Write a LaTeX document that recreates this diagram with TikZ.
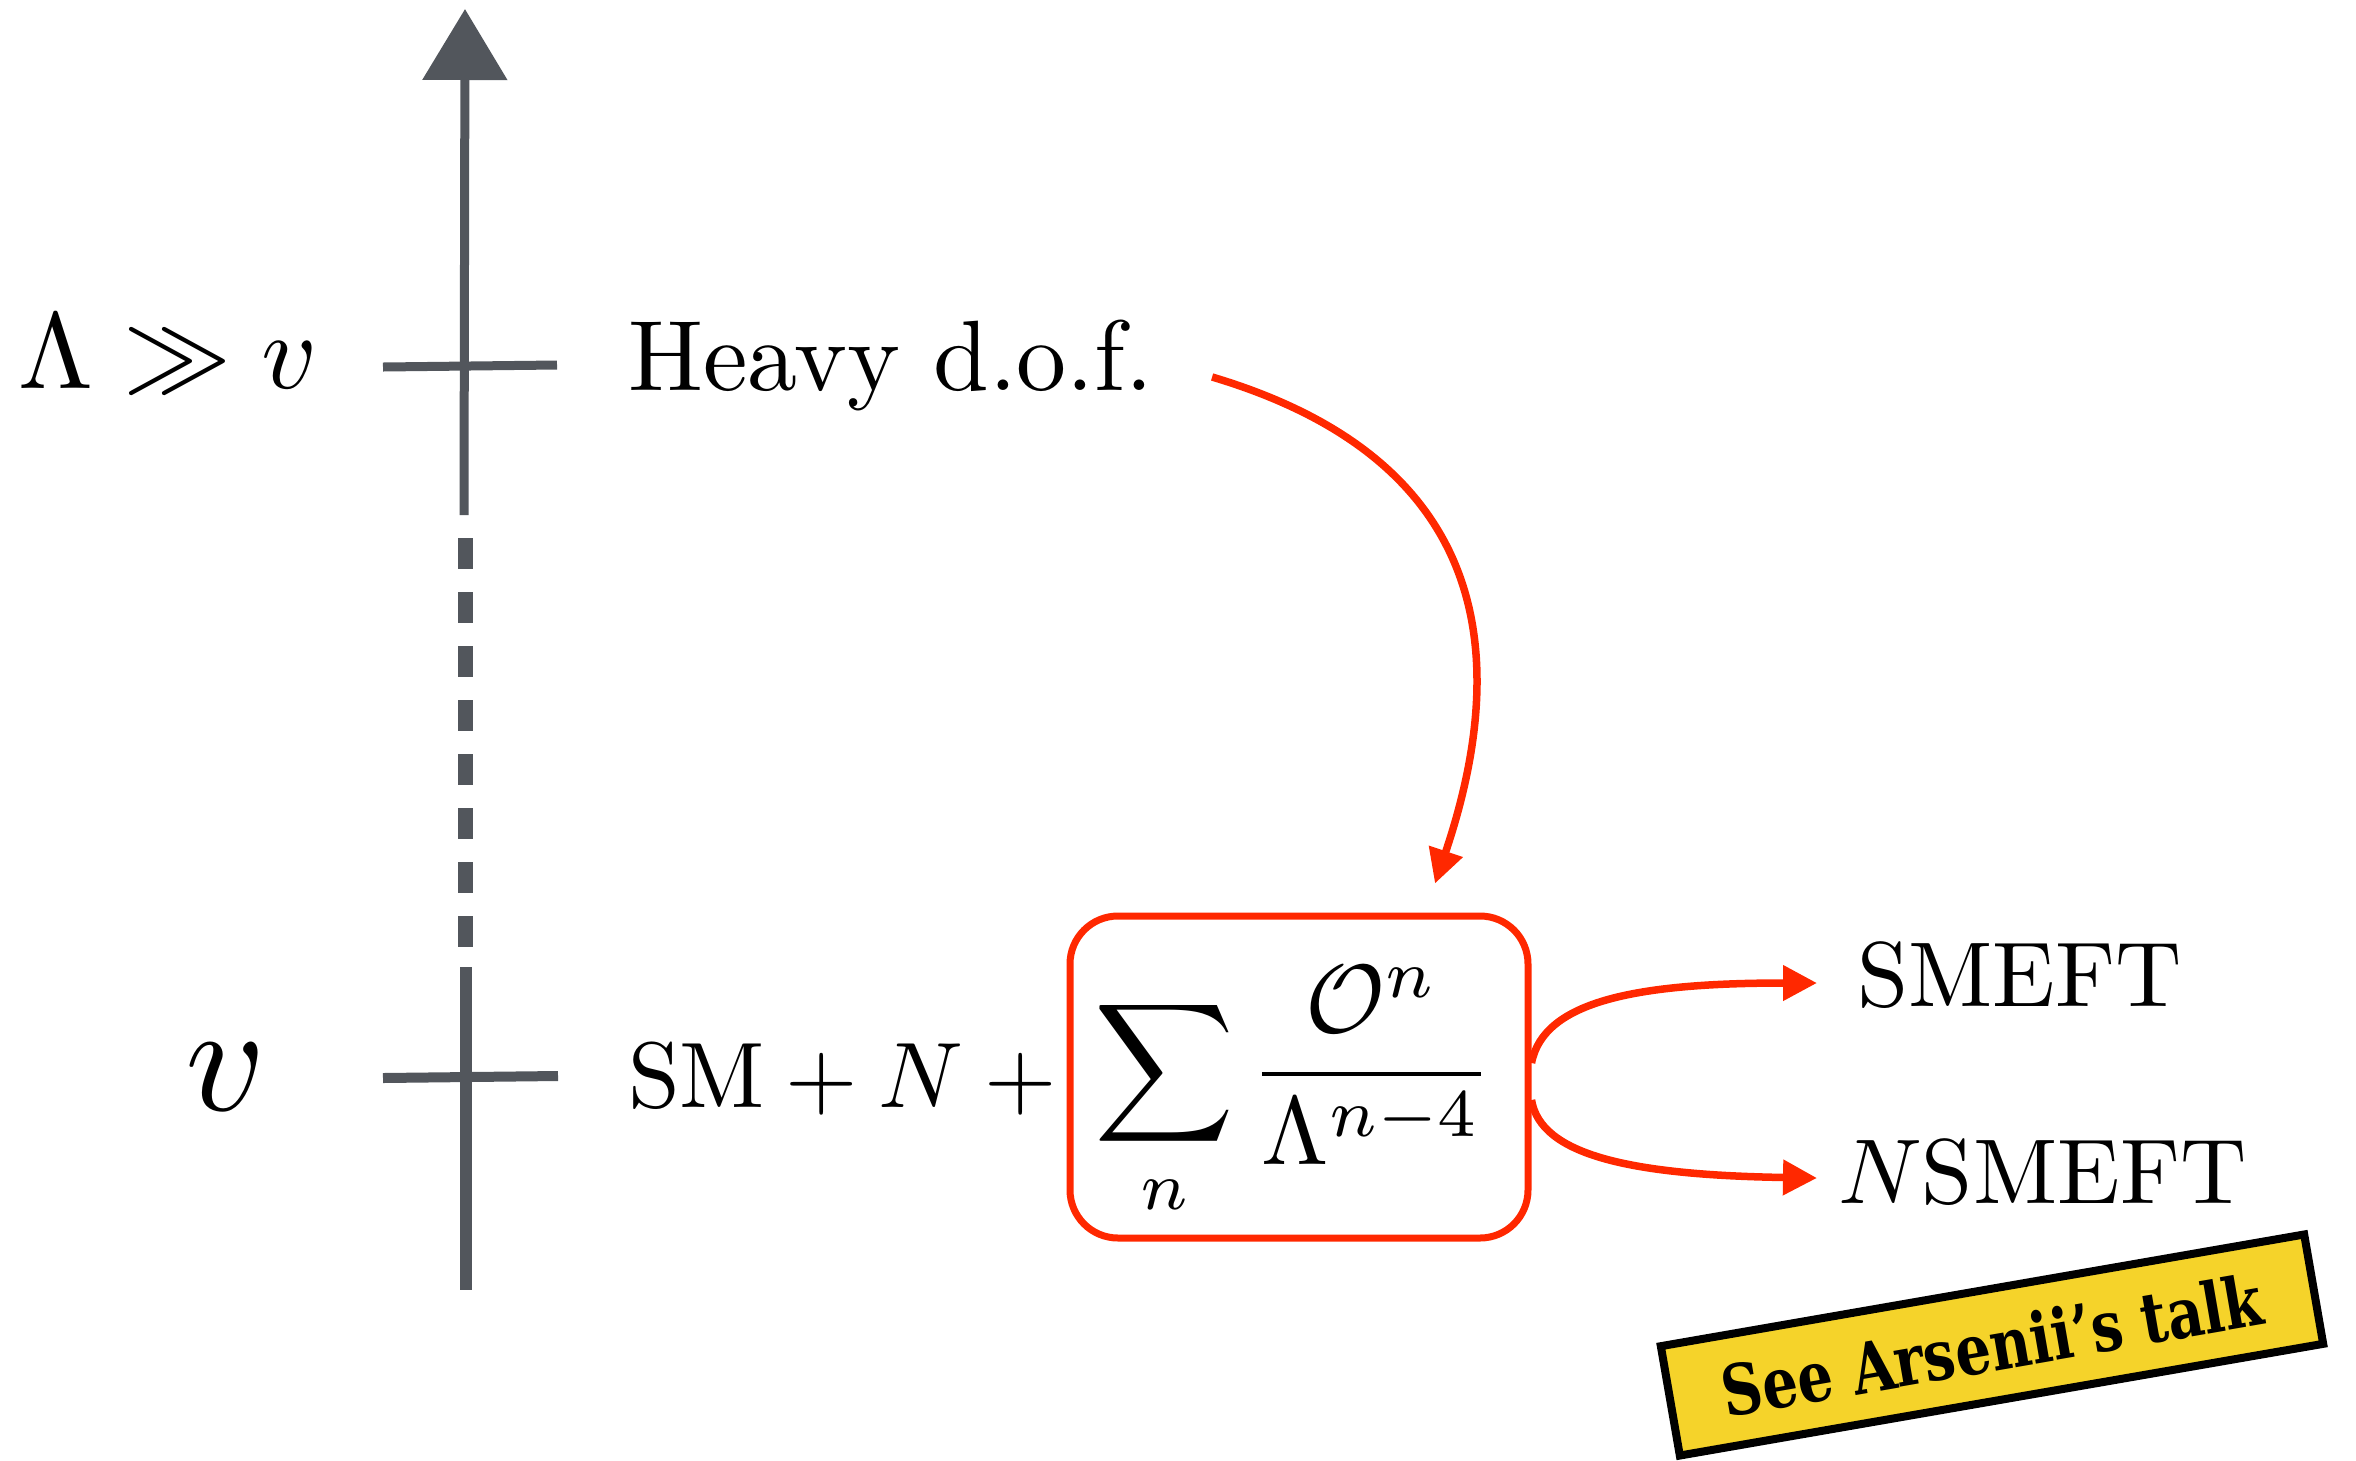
\documentclass[tikz,border=0pt]{standalone}
\usepackage[no-math]{fontspec}
\newfontfamily\slabfont[FakeStretch=0.8]{DejaVu Serif}
\usetikzlibrary{arrows.meta,calc}
\definecolor{axisgray}{RGB}{82,86,92}
\definecolor{hotred}{RGB}{255,40,0}
\definecolor{notey}{RGB}{245,211,42}
\tikzset{
  txt/.style={inner sep=0pt, outer sep=0pt},
  axisline/.style={draw=axisgray, line cap=butt},
  redarrow/.style={draw=hotred, line width=7.5pt, -{Triangle[length=34pt,width=34pt]}},
}
\begin{document}
\begin{tikzpicture}[x=1pt,y=-1pt]
\useasboundingbox (0,0) rectangle (2356,1460);
% axis
\draw[axisline, line width=9pt, -{Triangle[length=71pt,width=83pt]}] (464,515) -- (465,9);
\draw[axisline, line width=15pt, dash pattern=on 31pt off 23pt] (465,538) -- (465,947);
\draw[axisline, line width=12pt] (466,967) -- (466,1290);
\draw[axisline, line width=9pt] (383,367) -- (557,365);
\draw[axisline, line width=10pt] (383,1078) -- (558,1076);
% labels
\node[txt, anchor=base west] (lam) at (18,388) {\scalebox{10.8}{$\Lambda\gg v$}};
\node[txt, anchor=base] (vlow) at (226,1110) {\scalebox{15.5}{$v$}};
\node[txt, anchor=base west] (heavy) at (628,390) {\scalebox{10}{Heavy d.o.f.}};
\node[txt, anchor=base west] (sm) at (628,1107) {\scalebox{9.3}{$\mathrm{SM}+N+{}$}};
% box
\node[draw=hotred, line width=7pt, rounded corners=48pt, minimum width=458pt, minimum height=322pt, inner sep=0pt] (box) at (1299,1077) {};
\node[txt, anchor=base west] (sum) at (1094,1098) {\scalebox{9.7}{$\displaystyle\sum_n\frac{\mathcal{O}^n}{\Lambda^{n-4}}$}};
\node[txt, anchor=base west] (smeft) at (1857,1006) {\scalebox{9.2}{SMEFT}};
\node[txt, anchor=base west] (nsmeft) at (1838,1203) {\scalebox{9.2}{$N$SMEFT}};
% connectors
\draw[redarrow] ($(heavy.base east)+(59,-13)$) .. controls +(245,73) and +(90,-267) .. ($(box.north)+(136,-29)$);
\draw[redarrow] ($(box.east)+(0,-14)$) .. controls +(12,-63) and +(-177,0) .. ($(smeft.base west)+(-40,-23)$);
\draw[redarrow] ($(box.east)+(0,23)$) .. controls +(9,55) and +(-187,-3) .. ($(nsmeft.base west)+(-21,-25)$);
% note
\node[draw=black, line width=8pt, fill=notey, rotate=9.85, minimum width=653pt, minimum height=111pt, inner sep=0pt,
  font=\slabfont\bfseries\fontsize{70}{84}\selectfont] (note) at (1992,1345) {See Arsenii’s talk};
\end{tikzpicture}
\end{document}
